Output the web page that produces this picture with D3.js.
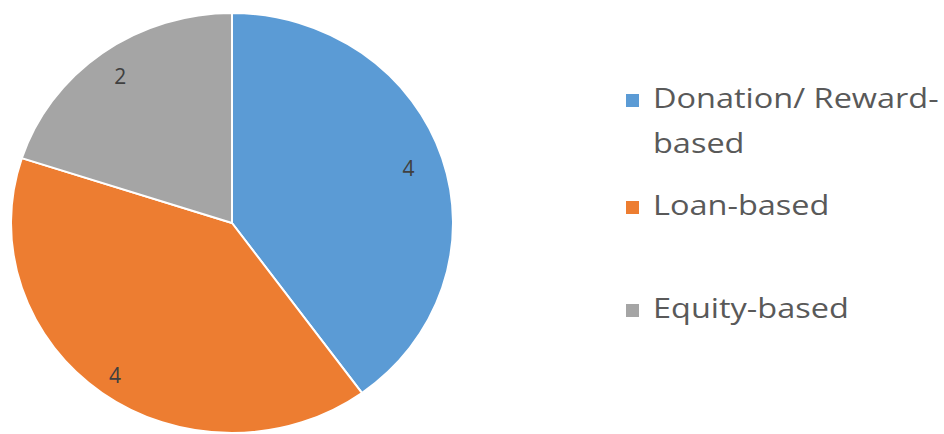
<!DOCTYPE html>
<html>
<head>
<meta charset="utf-8">
<script src="https://cdn.jsdelivr.net/npm/d3@7"></script>
<style>
  body { margin: 0; background: #fff; }
  svg { display: block; }
</style>
</head>
<body>
<svg width="944" height="434"></svg>
<script>
const categories = ['Donation/ Reward-based', 'Loan-based', 'Equity-based'];
const values = [4, 4, 2];
const legendLines = [['Donation/ Reward-', 'based'], ['Loan-based'], ['Equity-based']];
const colors = ['#5b9bd5', '#ed7d31', '#a5a5a5'];

const svg = d3.select('svg');
const width = +svg.attr('width');
const height = +svg.attr('height');

// pie in the picture is slightly squashed
const cx = 232, cy = 223;
const rx = 221, ry = 210;
// how far out each value label sits (fraction of radius)
const labelPos = [0.84, 0.9, 0.86];

const pie = d3.pie().sort(null).value(d => d.value);
const data = pie(categories.map((c, i) => ({name: c, value: values[i]})));

const arc = d3.arc().innerRadius(0).outerRadius(rx);
const labelArc = (d, i) => d3.arc().innerRadius(rx * labelPos[i]).outerRadius(rx * labelPos[i]).centroid(d);

const colorScale = d3.scaleOrdinal().domain(categories).range(colors);

const g = svg.append('g')
    .attr('transform', `translate(${cx},${cy}) scale(1,${ry / rx})`);

g.selectAll('path')
    .data(data)
    .enter().append('path')
        .attr('d', arc)
        .attr('fill', d => colorScale(d.data.name))
        .attr('stroke', '#fff')
        .attr('stroke-width', 2)
        .attr('stroke-linejoin', 'round');

svg.selectAll('text.val')
    .data(data)
    .enter().append('text')
        .attr('class', 'val')
        .attr('x', (d, i) => cx + labelArc(d, i)[0])
        .attr('y', (d, i) => cy + labelArc(d, i)[1] * ry / rx)
        .attr('dy', '0.35em')
        .attr('text-anchor', 'middle')
        .attr('font-family', 'Open Sans, sans-serif')
        .attr('font-size', 21)
        .attr('fill', '#404040')
        .text(d => d.value);

// legend
const legendY = [108, 215, 318];
const legend = svg.selectAll('g.leg')
    .data(categories)
    .enter().append('g')
        .attr('class', 'leg')
        .attr('transform', (d, i) => `translate(626,${legendY[i]})`);

legend.append('rect')
    .attr('x', 0)
    .attr('y', -14)
    .attr('width', 13)
    .attr('height', 13)
    .attr('fill', d => colorScale(d));

legend.append('text')
    .attr('transform', 'translate(27,0) scale(1.16,1)')
    .attr('font-family', 'Open Sans, sans-serif')
    .attr('font-size', 28)
    .attr('fill', '#595959')
    .selectAll('tspan')
    .data((d, i) => legendLines[i])
    .enter().append('tspan')
        .attr('x', 0)
        .attr('dy', (d, i) => i === 0 ? 0 : 45)
        .text(d => d);
</script>
</body>
</html>
